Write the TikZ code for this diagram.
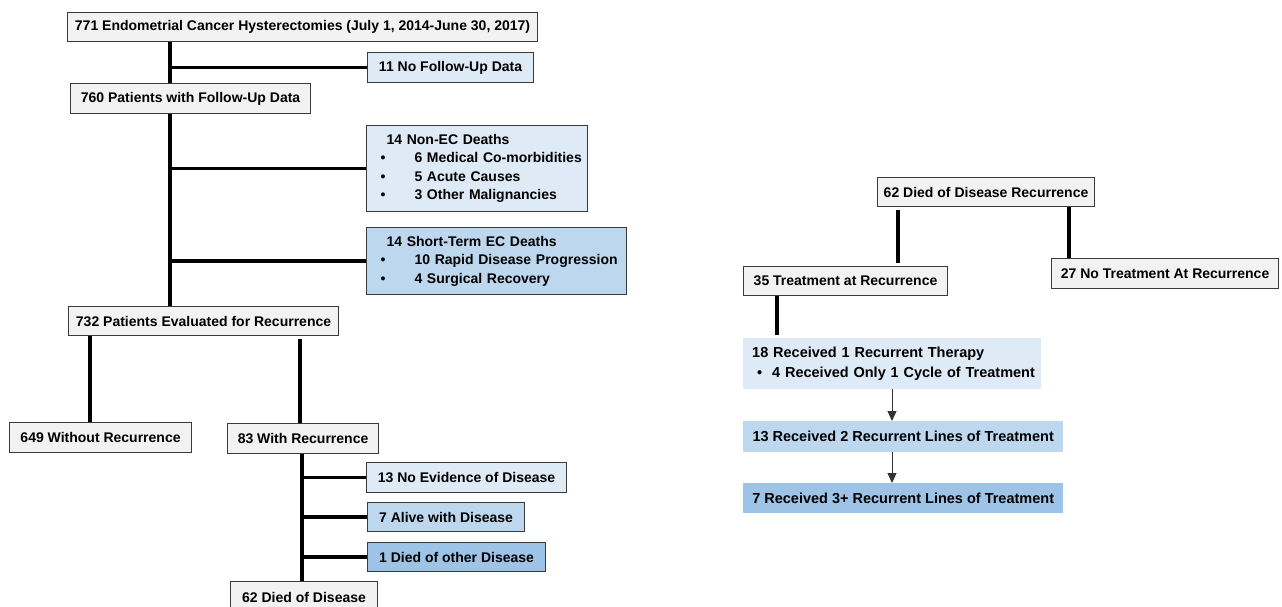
\documentclass[tikz,border=0pt]{standalone}
\usepackage{fontspec}
\setmainfont{Liberation Sans}
\usetikzlibrary{arrows.meta}
\definecolor{gfill}{HTML}{F2F2F2}
\definecolor{bone}{HTML}{DEEAF6}
\definecolor{btwo}{HTML}{BDD7EE}
\definecolor{bthree}{HTML}{9DC3E6}
\definecolor{bord}{HTML}{3A3A3A}
\newcommand\bx[7]{\node[#6, minimum width={#4-#2}, minimum height={#5-#3}] (#1) at (#2,#3) {#7};}
\begin{document}
\begin{tikzpicture}[x=1pt,y=-1pt,
  basebox/.style={inner sep=0pt, anchor=north west, align=center,
    font=\fontsize{14}{18.4}\selectfont\bfseries},
  gbox/.style={basebox, draw=bord, line width=1.1pt, fill=gfill},
  lbox/.style={basebox, draw=bord, line width=1.1pt, fill=bone},
  mbox/.style={basebox, draw=bord, line width=1.1pt, fill=btwo},
  dbox/.style={basebox, draw=bord, line width=1.1pt, fill=bthree},
  rbox/.style={basebox, font=\fontsize{14.5}{20}\selectfont\bfseries},
  tree/.style={line width=3.6pt, black},
  arr/.style={line width=1pt, draw=black!80, -{Triangle[width=9pt,length=10pt]}}]
\useasboundingbox (0,0) rectangle (1282,607);
% left part
\bx{A}{67}{12}{537}{41}{gbox}{771 Endometrial Cancer Hysterectomies (July 1, 2014-June 30, 2017)}
\bx{NoFU}{367}{52}{533}{82}{lbox}{11 No Follow-Up Data}
\bx{Pa}{70}{83}{310}{113}{gbox}{760 Patients with Follow-Up Data}
\bx{NonEC}{366}{125}{587}{211}{lbox, text width=221, align=left}{%
\mbox{\hspace*{20pt}14 Non-EC Deaths}\\
\mbox{\hspace*{14pt}\makebox[34pt][l]{\textbullet}6 Medical Co-morbidities}\\
\mbox{\hspace*{14pt}\makebox[34pt][l]{\textbullet}5 Acute Causes}\\
\mbox{\hspace*{14pt}\makebox[34pt][l]{\textbullet}3 Other Malignancies}}
\bx{ST}{366}{227}{626}{294}{mbox, text width=260, align=left}{%
\mbox{\hspace*{20pt}14 Short-Term EC Deaths}\\
\mbox{\hspace*{14pt}\makebox[34pt][l]{\textbullet}10 Rapid Disease Progression}\\
\mbox{\hspace*{14pt}\makebox[34pt][l]{\textbullet}4 Surgical Recovery}}
\bx{Pb}{68}{306}{338}{335}{gbox}{732 Patients Evaluated for Recurrence}
\bx{Nr}{9}{422}{191}{452}{gbox}{649 Without Recurrence}
\bx{Wr}{227}{423}{378}{453}{gbox}{83 With Recurrence}
\bx{NED}{366}{462}{566}{492}{lbox}{13 No Evidence of Disease}
\bx{AWD}{367}{502}{524}{531}{mbox}{7 Alive with Disease}
\bx{DOD}{367}{542}{545}{571}{dbox}{1 Died of other Disease}
\bx{DD}{230}{581}{377}{613}{gbox}{62 Died of Disease}
% right part
\bx{DDR}{877}{177}{1094}{206}{gbox}{62 Died of Disease Recurrence}
\bx{TAR}{743}{266}{947}{295}{gbox}{35 Treatment at Recurrence}
\bx{NTAR}{1051}{258}{1278}{288}{gbox}{27 No Treatment At Recurrence}
\bx{Ra}{743}{338}{1041}{389}{rbox, fill=bone, text width=298, align=left}{%
\mbox{\hspace*{9pt}18 Received 1 Recurrent Therapy}\\
\mbox{\hspace*{14pt}\makebox[15pt][l]{\textbullet}4 Received Only 1 Cycle of Treatment}}
\bx{Rb}{743}{421}{1063}{452}{rbox, fill=btwo}{13 Received 2 Recurrent Lines of Treatment}
\bx{Rc}{743}{483}{1063}{513}{rbox, fill=bthree}{7 Received 3+ Recurrent Lines of Treatment}
% connector x positions
\coordinate (tA) at (170,0);
\coordinate (tL) at (90,0);
\coordinate (tR) at (300,0);
\coordinate (tW) at (302,0);
\coordinate (rA) at (898,0);
\coordinate (rB) at (1069,0);
\coordinate (rC) at (777,0);
\coordinate (rD) at (892,0);
% left tree
\draw[tree] (A.south -| tA) -- (Pa.north -| tA);
\draw[tree] (tA |- NoFU.west) -- (NoFU.west);
\draw[tree] (Pa.south -| tA) -- (Pb.north -| tA);
\draw[tree] (tA |- NonEC.west) -- (NonEC.west);
\draw[tree] (tA |- ST.west) -- (ST.west);
\draw[tree] (Pb.south -| tL) -- (Nr.north -| tL);
\draw[tree] ([yshift=-3pt]Pb.south -| tR) -- (Wr.north -| tR);
\draw[tree] (Wr.south -| tW) -- (DD.north -| tW);
\draw[tree] (tW |- NED.west) -- (NED.west);
\draw[tree] (tW |- AWD.west) -- (AWD.west);
\draw[tree] (tW |- DOD.west) -- (DOD.west);
% right tree
\draw[tree] ([yshift=-3pt]DDR.south -| rA) -- ([yshift=3pt]TAR.north -| rA);
\draw[tree] (DDR.south -| rB) -- (NTAR.north -| rB);
\draw[tree] (TAR.south -| rC) -- ([yshift=3pt]Ra.north -| rC);
\draw[arr] (Ra.south -| rD) -- (Rb.north -| rD);
\draw[arr] (Rb.south -| rD) -- (Rc.north -| rD);
\end{tikzpicture}
\end{document}
